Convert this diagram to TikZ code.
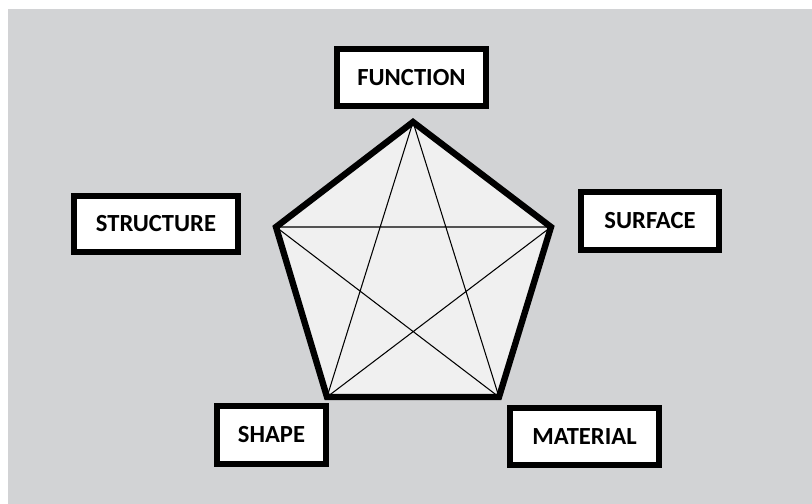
\documentclass[tikz,border=0pt]{standalone}
\usepackage{fontspec}
\setmainfont{Carlito}
\usepackage{tikz}

\definecolor{bggray}{HTML}{D2D3D5}
\definecolor{pentfill}{HTML}{F0F0F0}

\tikzset{
    namebox/.style={draw=black, line width=3.4pt, fill=white, inner sep=0pt,
        font=\fontsize{14}{16}\selectfont\bfseries, align=center},
}

\begin{document}
\begin{tikzpicture}[x=0.02cm, y=-0.02cm]
    \useasboundingbox (0, 0) rectangle (812, 504);
    \fill[bggray] (8, 9) rectangle (812, 504);

    % corners of the pentagon
    \coordinate (top) at (413, 122);
    \coordinate (ur) at (551, 227);
    \coordinate (lr) at (499, 397);
    \coordinate (ll) at (327, 397);
    \coordinate (ul) at (276, 227);

    \draw[line width=3.6pt, fill=pentfill] (top) -- (ur) -- (lr) -- (ll) -- (ul) -- cycle;
    \draw[line width=0.6pt] (top) -- (ll) (top) -- (lr) (ul) -- (ur) (ul) -- (lr) (ur) -- (ll);

    \node[namebox, minimum width=2.98cm, minimum height=1.14cm] (function) at (411.5, 77.5) {FUNCTION};
    \node[namebox, minimum width=3.28cm, minimum height=1.12cm] (structure) at (156, 224) {STRUCTURE};
    \node[namebox, minimum width=2.76cm, minimum height=1.16cm] (surface) at (650, 221) {SURFACE};
    \node[namebox, minimum width=2.18cm, minimum height=1.16cm] (shape) at (271.5, 435) {SHAPE};
    \node[namebox, minimum width=2.98cm, minimum height=1.14cm] (material) at (584.5, 436.5) {MATERIAL};
\end{tikzpicture}
\end{document}
